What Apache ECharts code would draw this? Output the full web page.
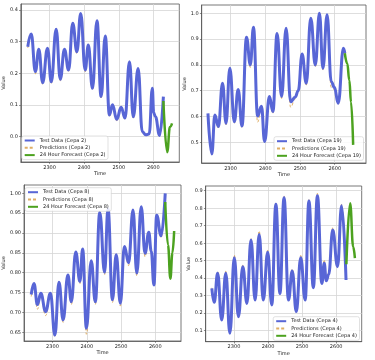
<!DOCTYPE html>
<html><head><meta charset="utf-8">
<script src="https://cdn.jsdelivr.net/npm/echarts@6/dist/echarts.min.js"></script>
<style>html,body{margin:0;padding:0;background:#fff}#c{width:375px;height:360px}</style>
</head><body><div id="c"></div>
<script>
// ---- Cepa 2 (top left)
var tlTime = [2237,2247,2259,2269,2280,2294,2305,2319,2331,2343,2355,2367,2379,2390,2403,2412,2424,2437,2449,2461,2473,2482,2494,2507,2518,2531,2542,2556,2568,2578,2588,2597,2601,2606,2618,2629];
var tlTest = [0.284,0.324,0.205,0.276,0.170,0.279,0.173,0.339,0.181,0.276,0.210,0.358,0.268,0.389,0.210,0.289,0.152,0.366,0.126,0.318,0.068,0.100,0.054,0.092,0.058,0.236,0.062,0.215,0.015,0.005,0.008,0.152,0.075,0.062,0.003,0.126];
var tlPred = [0.280,0.318,0.198,0.270,0.165,0.272,0.168,0.332,0.176,0.270,0.205,0.350,0.262,0.380,0.205,0.283,0.148,0.358,0.122,0.310,0.062,0.097,0.050,0.090,0.055,0.228,0.058,0.208,0.012,0.004,0.006,0.146,0.072,0.060,0.002,0.120];
var tlFcTime = [2629,2640,2648,2654];
var tlFc = [0.112,-0.050,0.030,0.041];
// ---- Cepa 19 (top right)
var trTime = [2235,2246,2255,2265,2277,2287,2298,2311,2322,2333,2346,2357,2366,2378,2389,2398,2412,2422,2434,2447,2460,2473,2486,2495,2506,2518,2531,2544,2556,2566,2578,2590,2599,2610,2625,2629];
var trTest = [0.612,0.455,0.606,0.561,0.729,0.574,0.787,0.580,0.705,0.563,0.907,0.800,0.946,0.602,0.640,0.503,0.677,0.619,0.922,0.677,0.942,0.657,0.675,0.700,0.842,0.729,0.981,0.800,1.000,0.787,0.994,0.735,0.713,0.651,0.864,0.845];
var trPred = [0.608,0.458,0.600,0.555,0.722,0.568,0.780,0.574,0.700,0.558,0.900,0.790,0.940,0.578,0.636,0.505,0.672,0.612,0.915,0.670,0.935,0.636,0.668,0.695,0.835,0.722,0.975,0.792,0.994,0.780,0.988,0.712,0.705,0.648,0.858,0.840];
var trFcTime = [2629,2636,2642,2647,2653];
var trFc = [0.845,0.805,0.740,0.655,0.490];
// ---- Cepa 8 (bottom left)
var blTime = [2238,2246,2256,2266,2280,2294,2307,2319,2331,2345,2355,2368,2380,2388,2399,2413,2425,2438,2452,2462,2475,2486,2498,2510,2522,2535,2546,2559,2570,2581,2588,2596,2604,2617,2629];
var blTest = [0.745,0.773,0.720,0.748,0.702,0.748,0.643,0.776,0.681,0.794,0.727,0.852,0.778,0.860,0.660,0.830,0.727,0.952,0.801,0.961,0.732,0.845,0.723,0.866,0.825,0.958,0.799,0.966,0.849,0.902,0.855,0.769,0.945,0.893,1.000];
var blPred = [0.740,0.768,0.708,0.742,0.692,0.742,0.640,0.770,0.675,0.788,0.720,0.846,0.772,0.855,0.645,0.824,0.720,0.946,0.795,0.955,0.725,0.840,0.716,0.860,0.818,0.952,0.792,0.960,0.840,0.896,0.860,0.772,0.940,0.888,0.995];
var blFcTime = [2629,2637,2644,2650,2655];
var blFc = [0.978,0.870,0.785,0.850,0.905];
// ---- Cepa 4 (bottom right)
var brTime = [2235,2242,2252,2264,2276,2288,2301,2313,2326,2338,2350,2362,2374,2386,2399,2411,2423,2435,2447,2460,2471,2483,2496,2509,2520,2533,2545,2558,2565,2571,2578,2590,2604,2616,2629];
var brTest = [0.342,0.262,0.428,0.161,0.428,0.085,0.517,0.180,0.466,0.256,0.618,0.275,0.650,0.275,0.548,0.247,0.822,0.313,0.860,0.275,0.441,0.209,0.517,0.275,0.841,0.346,0.871,0.370,0.485,0.385,0.420,0.675,0.466,0.814,0.390];
var brPred = [0.345,0.266,0.438,0.166,0.440,0.090,0.532,0.184,0.474,0.260,0.628,0.280,0.670,0.280,0.560,0.252,0.830,0.318,0.872,0.280,0.452,0.214,0.530,0.280,0.850,0.350,0.885,0.375,0.505,0.390,0.430,0.688,0.472,0.822,0.395];
var brFcTime = [2630,2641,2650,2655];
var brFc = [0.480,0.828,0.580,0.515];

var xTicks = [2300,2400,2500,2600];
var tlYTicks = [0.0,0.1,0.2,0.3,0.4];
var trYTicks = [0.5,0.6,0.7,0.8,0.9,1.0];
var blYTicks = [0.65,0.70,0.75,0.80,0.85,0.90,0.95,1.00];
var brYTicks = [0.1,0.2,0.3,0.4,0.5,0.6,0.7,0.8,0.9];

function pairs(t, v){ var o=[]; for(var i=0;i<t.length;i++) o.push([t[i],v[i]]); return o; }

var FONT = 'DejaVu Sans';
var panels = [
  {id:'2', time:tlTime, test:tlTest, pred:tlPred, fct:tlFcTime, fc:tlFc, yt:tlYTicks, dec:1,
   grid:{left:20.7, top:4, width:158.6, height:158}, xr:[2217,2675], yr:[-0.081,0.419], yGap:12.2,
   legend:{left:21.7, top:136}},
  {id:'19', time:trTime, test:trTest, pred:trPred, fct:trFcTime, fc:trFc, yt:trYTicks, dec:1,
   grid:{left:201.7, top:5, width:164.3, height:158}, xr:[2217,2690], yr:[0.4198,1.032], yGap:10.9,
   legend:{right:11.5, top:136.7}},
  {id:'8', time:blTime, test:blTest, pred:blPred, fct:blFcTime, fc:blFc, yt:blYTicks, dec:2,
   grid:{left:23.3, top:185, width:157.7, height:156}, xr:[2217,2675], yr:[0.628,1.021], yGap:14.8,
   legend:{left:25, top:187.7}},
  {id:'4', time:brTime, test:brTest, pred:brPred, fct:brFcTime, fc:brFc, yt:brYTicks, dec:1,
   grid:{left:205.7, top:186, width:156, height:155.7}, xr:[2217,2675], yr:[0.037,0.927], yGap:14.2,
   legend:{right:15.5, top:316.7}}
];

var option = {animation:false, backgroundColor:'#fff', grid:[], xAxis:[], yAxis:[], series:[], legend:[]};
panels.forEach(function(p, i){
  var g = Object.assign({show:true, borderColor:'#555', borderWidth:0.8, backgroundColor:'transparent'}, p.grid);
  option.grid.push(g);
  option.xAxis.push({type:'value', gridIndex:i, min:p.xr[0], max:p.xr[1],
    name:'Time', nameLocation:'middle', nameGap:9.5,
    nameTextStyle:{fontSize:5, fontFamily:FONT, color:'#222'},
    axisLine:{show:true, onZero:false, lineStyle:{color:'#555', width:0.8}},
    axisTick:{show:true, length:1.8, customValues:xTicks, lineStyle:{color:'#444', width:0.6}},
    axisLabel:{customValues:xTicks, fontSize:5, fontFamily:FONT, color:'#222', margin:3,
      formatter:function(v){return String(Math.round(v));}},
    splitLine:{show:true, lineStyle:{color:'#d6d6d6', width:0.8}}});
  option.yAxis.push({type:'value', gridIndex:i, min:p.yr[0], max:p.yr[1],
    name:'Value', nameLocation:'middle', nameGap:p.yGap,
    nameTextStyle:{fontSize:5, fontFamily:FONT, color:'#222'},
    axisLine:{show:true, onZero:false, lineStyle:{color:'#555', width:0.8}},
    axisTick:{show:true, length:1.8, customValues:p.yt, lineStyle:{color:'#444', width:0.6}},
    axisLabel:{customValues:p.yt, fontSize:5, fontFamily:FONT, color:'#222', margin:3,
      formatter:function(v){return Number(v).toFixed(p.dec);}},
    splitLine:{show:true, lineStyle:{color:'#d6d6d6', width:0.8}}});
  var n1 = 'Test Data (Cepa '+p.id+')', n2 = 'Predictions (Cepa '+p.id+')', n3 = '24 Hour Forecast (Cepa '+p.id+')';
  option.series.push({name:n1, type:'line', xAxisIndex:i, yAxisIndex:i, data:pairs(p.time,p.test),
    symbol:'none', smooth:0.45, smoothMonotone:'x', lineStyle:{color:'#5866d6', width:3}, itemStyle:{color:'#5866d6'}, z:3});
  option.series.push({name:n2, type:'line', xAxisIndex:i, yAxisIndex:i, data:pairs(p.time,p.pred),
    symbol:'none', smooth:0.45, smoothMonotone:'x', lineStyle:{color:'#d9a04a', width:1, type:[3,2], opacity:0.85}, itemStyle:{color:'#d9a04a'}, z:2});
  option.series.push({name:n3, type:'line', xAxisIndex:i, yAxisIndex:i, data:pairs(p.fct,p.fc),
    symbol:'none', smooth:0.45, smoothMonotone:'x', lineStyle:{color:'#4ca21f', width:2.5}, itemStyle:{color:'#4ca21f'}, z:4});
  option.legend.push(Object.assign({orient:'vertical', data:[n1,n2,n3], itemWidth:10, itemHeight:5, itemGap:2.3,
    padding:[2,2.5,2,2], borderColor:'#ccc', borderWidth:0.6, borderRadius:2, backgroundColor:'rgba(255,255,255,0.85)',
    selectedMode:false, itemStyle:{opacity:0}, textStyle:{fontSize:5, fontFamily:FONT, color:'#222'}}, p.legend));
});
var chart = echarts.init(document.getElementById('c'), null, {renderer:'canvas'});
chart.setOption(option);
</script></body></html>
